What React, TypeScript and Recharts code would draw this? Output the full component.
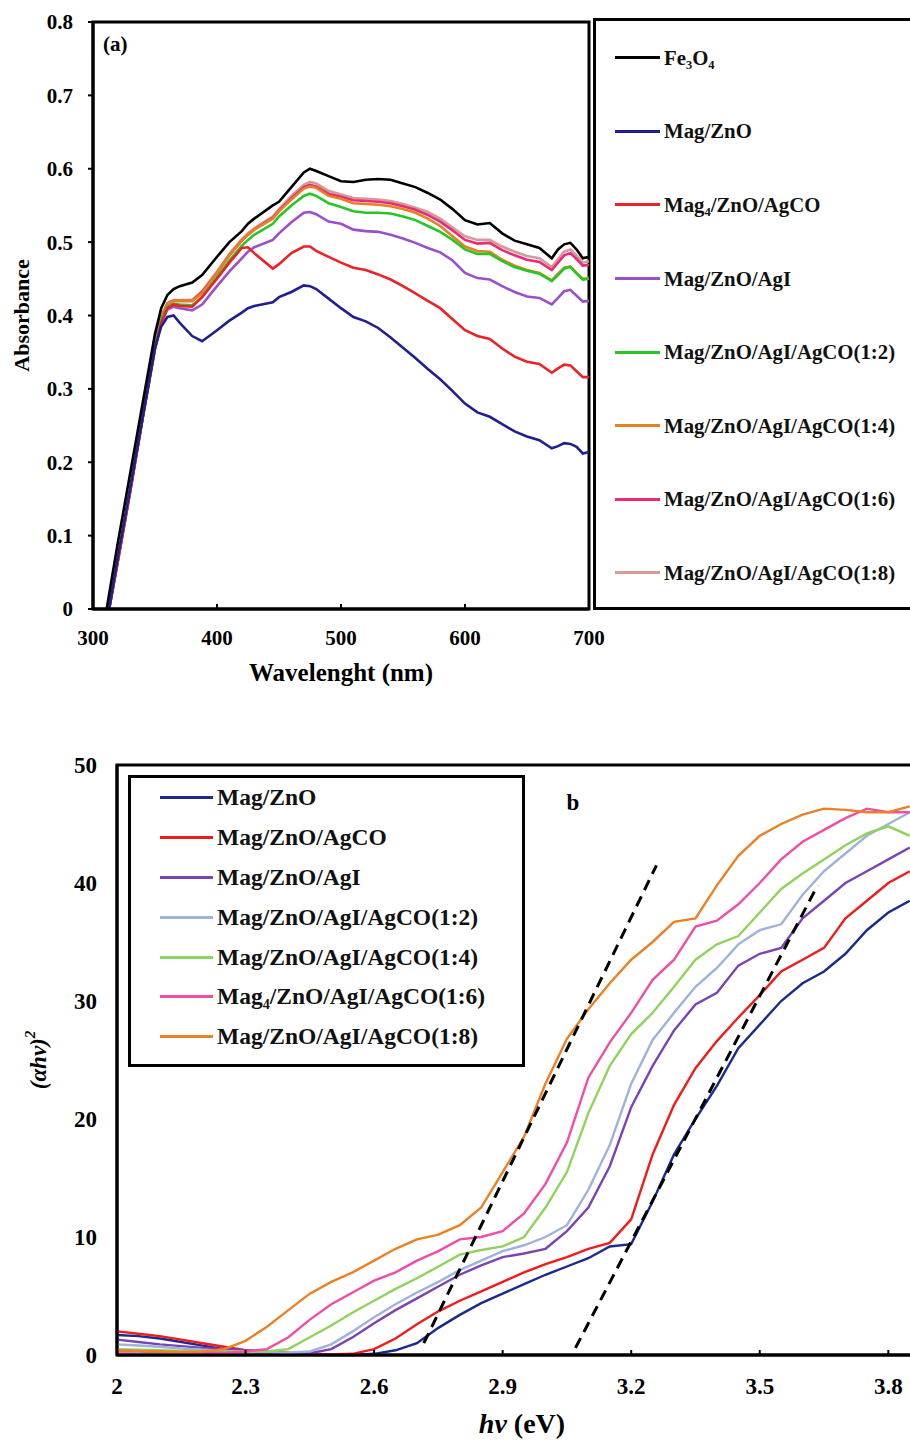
import React from 'react';
import {
  LineChart,
  Line,
  XAxis,
  YAxis,
  ReferenceArea,
  ReferenceLine,
  Legend,
} from 'recharts';

const FONT = '"Liberation Serif", "Times New Roman", serif';

// ---- (a) absorbance spectra ----
const wavelength = [
  311, 313, 320, 330, 340, 350, 355, 360, 365, 370, 380, 388, 400, 410, 420, 425,
  430, 445, 450, 460, 470, 475, 480, 490, 500, 510, 520, 530, 540, 550, 560, 570,
  580, 590, 600, 610, 620, 630, 640, 650, 660, 670, 675, 680, 685, 690, 695, 700,
];
const absFe3O4 = [
  0, 0.02, 0.09, 0.185, 0.28, 0.375, 0.41, 0.428, 0.436, 0.44, 0.445, 0.455, 0.48, 0.5, 0.515, 0.525,
  0.532, 0.55, 0.555, 0.575, 0.595, 0.6, 0.597, 0.59, 0.583, 0.582, 0.585, 0.586, 0.585, 0.58, 0.575, 0.567,
  0.558, 0.545, 0.53, 0.524, 0.526, 0.512, 0.502, 0.497, 0.492, 0.478, 0.49, 0.497, 0.499, 0.49, 0.478, 0.48,
];
const absZnO = [
  null, 0, 0.07, 0.165, 0.26, 0.355, 0.385, 0.398, 0.4, 0.39, 0.372, 0.365, 0.38, 0.393, 0.404, 0.41,
  0.413, 0.418, 0.425, 0.432, 0.441, 0.44, 0.436, 0.423, 0.41, 0.398, 0.392, 0.383, 0.37, 0.356, 0.342, 0.327,
  0.313, 0.297, 0.28, 0.268, 0.262, 0.252, 0.242, 0.235, 0.23, 0.219, 0.222, 0.226, 0.225, 0.221, 0.212, 0.214,
];
const absAgCO = [
  null, 0, 0.065, 0.16, 0.26, 0.355, 0.39, 0.41, 0.415, 0.413, 0.412, 0.425, 0.45, 0.472, 0.492, 0.493,
  0.485, 0.464, 0.47, 0.485, 0.494, 0.494, 0.488, 0.48, 0.472, 0.465, 0.462, 0.456, 0.449, 0.44, 0.43, 0.42,
  0.41, 0.395, 0.38, 0.372, 0.368, 0.355, 0.344, 0.337, 0.334, 0.322, 0.328, 0.333, 0.332, 0.324, 0.316, 0.316,
];
const absAgI = [
  null, 0, 0.065, 0.16, 0.26, 0.355, 0.39, 0.408, 0.412, 0.41, 0.407, 0.415, 0.44, 0.46, 0.478, 0.487,
  0.493, 0.503, 0.512, 0.527, 0.54, 0.541, 0.538, 0.528, 0.525, 0.517, 0.515, 0.514, 0.51, 0.505, 0.499, 0.492,
  0.486, 0.475, 0.458, 0.451, 0.449, 0.44, 0.432, 0.426, 0.424, 0.415, 0.424, 0.433, 0.435, 0.427, 0.419, 0.42,
];
const abs12 = [
  null, 0, 0.065, 0.16, 0.26, 0.358, 0.395, 0.412, 0.416, 0.415, 0.414, 0.425, 0.452, 0.475, 0.495, 0.503,
  0.51, 0.525, 0.535, 0.55, 0.563, 0.566, 0.563, 0.553, 0.548, 0.542, 0.54, 0.54, 0.539, 0.535, 0.53, 0.522,
  0.514, 0.503, 0.49, 0.484, 0.484, 0.474, 0.466, 0.461, 0.457, 0.447, 0.455, 0.464, 0.466, 0.457, 0.449, 0.45,
];
const abs14 = [
  null, 0, 0.066, 0.162, 0.262, 0.36, 0.398, 0.416, 0.42, 0.42, 0.42, 0.43, 0.458, 0.482, 0.502, 0.51,
  0.517, 0.532, 0.542, 0.558, 0.573, 0.576, 0.574, 0.563, 0.559, 0.553, 0.552, 0.551, 0.549, 0.545, 0.54, 0.532,
  0.522, 0.508, 0.494, 0.488, 0.487, 0.476, 0.468, 0.462, 0.458, 0.448, 0.457, 0.465, 0.467, 0.458, 0.45, 0.451,
];
const abs16 = [
  null, 0, 0.066, 0.162, 0.262, 0.36, 0.398, 0.416, 0.42, 0.42, 0.42, 0.432, 0.458, 0.482, 0.502, 0.51,
  0.517, 0.533, 0.543, 0.56, 0.575, 0.578, 0.576, 0.566, 0.562, 0.557, 0.556, 0.555, 0.553, 0.549, 0.544, 0.537,
  0.528, 0.516, 0.503, 0.498, 0.499, 0.489, 0.482, 0.476, 0.473, 0.462, 0.472, 0.482, 0.485, 0.477, 0.468, 0.469,
];
const abs18 = [
  null, 0, 0.066, 0.162, 0.262, 0.36, 0.398, 0.417, 0.421, 0.421, 0.421, 0.433, 0.46, 0.484, 0.504, 0.512,
  0.519, 0.535, 0.545, 0.563, 0.578, 0.582, 0.58, 0.57, 0.565, 0.56, 0.559, 0.558, 0.556, 0.552, 0.547, 0.541,
  0.532, 0.52, 0.508, 0.503, 0.503, 0.494, 0.487, 0.481, 0.478, 0.466, 0.477, 0.487, 0.49, 0.482, 0.472, 0.474,
];
const absNames = [
  'Fe₃O₄',
  'Mag/ZnO',
  'Mag₄/ZnO/AgCO',
  'Mag/ZnO/AgI',
  'Mag/ZnO/AgI/AgCO(1:2)',
  'Mag/ZnO/AgI/AgCO(1:4)',
  'Mag/ZnO/AgI/AgCO(1:6)',
  'Mag/ZnO/AgI/AgCO(1:8)',
];
const absColors = ['#000000', '#1f1f8f', '#ec2227', '#9a4fcc', '#26c626', '#e7801f', '#ec2a78', '#d69a9a'];
const wavelengthTicks = [300, 400, 500, 600, 700];
const absorbanceTicks = [0, 0.1, 0.2, 0.3, 0.4, 0.5, 0.6, 0.7, 0.8];

// ---- (b) Tauc plot ----
const photonEnergy = [
  2, 2.05, 2.1, 2.15, 2.2, 2.25, 2.3, 2.35, 2.4, 2.45, 2.5, 2.55, 2.6, 2.65, 2.7, 2.75, 2.8, 2.85, 2.9,
  2.95, 3, 3.05, 3.1, 3.15, 3.2, 3.25, 3.3, 3.35, 3.4, 3.45, 3.5, 3.55, 3.6, 3.65, 3.7, 3.75, 3.8, 3.85,
];
const taucZnO = [
  1.7, 1.6, 1.4, 1.1, 0.8, 0.5, 0.3, 0.2, 0.1, 0.05, 0, 0, 0.1, 0.4, 1.0, 2.3, 3.4, 4.4, 5.2,
  6.0, 6.8, 7.5, 8.2, 9.2, 9.4, 13.0, 17.0, 20.0, 22.8, 26.0, 28.0, 30.0, 31.5, 32.5, 34.0, 36.0, 37.5, 38.5,
];
const taucAgCO = [
  2.0, 1.8, 1.6, 1.3, 1.0, 0.7, 0.4, 0.3, 0.2, 0.1, 0.05, 0.1, 0.5, 1.4, 2.6, 3.7, 4.6, 5.4, 6.2,
  7.0, 7.7, 8.3, 9.0, 9.5, 11.5, 17.0, 21.2, 24.3, 26.6, 28.6, 30.5, 32.5, 33.5, 34.5, 37.0, 38.5, 40.0, 41.0,
];
const taucAgI = [
  1.3, 1.1, 0.9, 0.75, 0.6, 0.5, 0.4, 0.3, 0.15, 0.15, 0.5, 1.5, 2.7, 3.8, 4.8, 5.8, 6.8, 7.6, 8.3,
  8.6, 9.0, 10.5, 12.5, 16.0, 21.0, 24.5, 27.5, 29.7, 30.7, 33.0, 34.0, 34.5, 37.0, 38.5, 40.0, 41.0, 42.0, 43.0,
];
const tauc12 = [
  0.9, 0.8, 0.7, 0.55, 0.45, 0.35, 0.3, 0.25, 0.2, 0.3, 0.9, 2.0, 3.2, 4.3, 5.3, 6.2, 7.2, 8.0, 8.8,
  9.3, 10.0, 11.0, 14.0, 17.8, 23.0, 26.7, 29.0, 31.2, 32.8, 34.8, 36.0, 36.5, 39.0, 41.0, 42.5, 44.0, 45.0, 46.0,
];
const tauc14 = [
  0.5, 0.45, 0.4, 0.35, 0.3, 0.3, 0.3, 0.3, 0.5, 1.5, 2.5, 3.6, 4.6, 5.6, 6.5, 7.5, 8.5, 8.9, 9.2,
  10.0, 12.5, 15.5, 20.5, 24.5, 27.2, 29.0, 31.2, 33.5, 34.8, 35.5, 37.5, 39.5, 40.8, 42.0, 43.2, 44.2, 44.8, 44.0,
];
const tauc16 = [
  0.3, 0.3, 0.25, 0.2, 0.2, 0.2, 0.3, 0.5, 1.5, 3.0, 4.3, 5.3, 6.3, 7.0, 8.0, 8.8, 9.8, 10.0, 10.5,
  12.0, 14.5, 18.0, 23.5, 26.5, 29.0, 31.8, 33.5, 36.3, 36.8, 38.2, 40.0, 42.0, 43.5, 44.5, 45.5, 46.3, 46.0, 46.0,
];
const tauc18 = [
  0.4, 0.35, 0.3, 0.25, 0.3, 0.5, 1.2, 2.4, 3.8, 5.2, 6.2, 7.0, 8.0, 9.0, 9.8, 10.2, 11.0, 12.5, 15.5,
  18.5, 23.0, 26.8, 29.3, 31.5, 33.5, 35.0, 36.7, 37.0, 39.8, 42.3, 44.0, 45.0, 45.8, 46.3, 46.2, 46.0, 46.0, 46.5,
];
const taucNames = [
  'Mag/ZnO',
  'Mag/ZnO/AgCO',
  'Mag/ZnO/AgI',
  'Mag/ZnO/AgI/AgCO(1:2)',
  'Mag/ZnO/AgI/AgCO(1:4)',
  'Mag₄/ZnO/AgI/AgCO(1:6)',
  'Mag/ZnO/AgI/AgCO(1:8)',
];
const taucColors = ['#1c2a8e', '#f01c1c', '#7a44b4', '#9fb3da', '#8fd35c', '#f04ea6', '#ec8124'];
const energyTicks = [2, 2.3, 2.6, 2.9, 3.2, 3.5, 3.8];
const taucTicks = [0, 10, 20, 30, 40, 50];
// band-gap tangents [eV, value]
const tangentA = [[2.716, 1.0], [3.259, 41.5]];
const tangentB = [[3.07, 0.6], [3.635, 39.8]];

const absSeries = [absFe3O4, absZnO, absAgCO, absAgI, abs12, abs14, abs16, abs18];
const absData = wavelength.map((wl, i) => {
  const row: Record<string, number | null> = { wl };
  absSeries.forEach((s, k) => {
    row[`s${k}`] = s[i];
  });
  return row;
});

const taucSeries = [taucZnO, taucAgCO, taucAgI, tauc12, tauc14, tauc16, tauc18];
const taucData = photonEnergy.map((ev, i) => {
  const row: Record<string, number> = { ev };
  taucSeries.forEach((s, k) => {
    row[`s${k}`] = s[i];
  });
  return row;
});

const textStyle = { fontFamily: FONT, fontWeight: 'bold' as const, fill: '#000' };

const LegendBox = ({ names, colors, width, height, rowHeight, padLeft, lineWidth, fontSize }: any) => (
  <div
    style={{
      width,
      height,
      border: '3px solid #000',
      boxSizing: 'border-box',
      background: '#fff',
      fontFamily: FONT,
      fontWeight: 'bold',
      fontSize,
      color: '#111',
    }}
  >
    {names.map((n: string, i: number) => (
      <div key={n + i} style={{ height: rowHeight, display: 'flex', alignItems: 'center', paddingLeft: padLeft }}>
        <div style={{ width: lineWidth, height: 3, background: colors[i] }} />
        <span style={{ marginLeft: 4, whiteSpace: 'nowrap' }}>{n}</span>
      </div>
    ))}
  </div>
);

const App = () => {
  return (
    <div
      style={{ position: 'absolute', left: 0, top: 0, width: 910, height: 1440, overflow: 'hidden', background: '#fff' }}
    >
      <div style={{ position: 'absolute', left: 0, top: 0 }}>
        <LineChart width={1000} height={700} data={absData} margin={{ top: 22, right: 411, bottom: 19, left: 0 }}>
          <XAxis
            dataKey="wl"
            type="number"
            domain={[300, 700]}
            ticks={wavelengthTicks}
            allowDataOverflow
            height={72}
            axisLine={{ stroke: '#000', strokeWidth: 3 }}
            tickLine={{ stroke: '#000', strokeWidth: 2 }}
            tickSize={-5}
            tickMargin={26}
            tick={{ ...textStyle, fontSize: 21 }}
            label={({ viewBox }: any) => (
              <text x={viewBox.x + viewBox.width / 2} y={viewBox.y + 72} textAnchor="middle" {...textStyle} fontSize={25}>
                Wavelenght (nm)
              </text>
            )}
          />
          <YAxis
            type="number"
            domain={[0, 0.8]}
            ticks={absorbanceTicks}
            width={93}
            axisLine={{ stroke: '#000', strokeWidth: 3 }}
            tickLine={{ stroke: '#000', strokeWidth: 2 }}
            tickSize={5}
            tickMargin={15}
            tick={{ ...textStyle, fontSize: 21 }}
            label={({ viewBox }: any) => {
              const cx = viewBox.x + 21;
              const cy = viewBox.y + viewBox.height / 2;
              return (
                <text
                  x={cx}
                  y={cy}
                  transform={`rotate(-90, ${cx}, ${cy})`}
                  textAnchor="middle"
                  dominantBaseline="central"
                  {...textStyle}
                  fontSize={22}
                >
                  Absorbance
                </text>
              );
            }}
          />
          <ReferenceArea
            x1={300}
            x2={700}
            y1={0}
            y2={0.8}
            fill="none"
            stroke="#000"
            strokeWidth={3}
            label={({ viewBox }: any) => (
              <text x={viewBox.x + 10} y={viewBox.y + 29} {...textStyle} fontSize={21}>
                (a)
              </text>
            )}
          />
          {[7, 6, 5, 4, 3, 2, 1, 0].map((k) => (
            <Line
              key={k}
              type="linear"
              dataKey={`s${k}`}
              name={absNames[k]}
              stroke={absColors[k]}
              strokeWidth={2.6}
              dot={false}
              activeDot={false}
              isAnimationActive={false}
            />
          ))}
          <Legend
            layout="vertical"
            align="center"
            verticalAlign="middle"
            wrapperStyle={{ left: 593, top: 18, width: 400, height: 592 }}
            content={() => (
              <LegendBox
                names={absNames}
                colors={absColors}
                width={400}
                height={592}
                rowHeight={73.6}
                padLeft={19}
                lineWidth={45}
                fontSize={20.8}
              />
            )}
          />
        </LineChart>
      </div>

      <div style={{ position: 'absolute', left: 0, top: 700 }}>
        <LineChart width={1000} height={740} data={taucData} margin={{ top: 65, right: 26, bottom: 5, left: 0 }}>
          <XAxis
            dataKey="ev"
            type="number"
            domain={[2, 4]}
            ticks={energyTicks}
            allowDataOverflow
            height={80}
            axisLine={{ stroke: '#000', strokeWidth: 3 }}
            tickLine={{ stroke: '#000', strokeWidth: 2 }}
            tickSize={-5}
            tickMargin={28}
            tick={{ ...textStyle, fontSize: 23 }}
            label={({ viewBox }: any) => (
              <text x={viewBox.x + 405} y={viewBox.y + 78} textAnchor="middle" {...textStyle} fontSize={28}>
                <tspan fontStyle="italic">hν</tspan> (eV)
              </text>
            )}
          />
          <YAxis
            type="number"
            domain={[0, 50]}
            ticks={taucTicks}
            width={117}
            axisLine={{ stroke: '#000', strokeWidth: 3 }}
            tickLine={false}
            tickMargin={14}
            tick={{ ...textStyle, fontSize: 23 }}
            label={({ viewBox }: any) => {
              const cx = viewBox.x + 38;
              const cy = viewBox.y + viewBox.height / 2;
              return (
                <text
                  x={cx}
                  y={cy}
                  transform={`rotate(-90, ${cx}, ${cy})`}
                  textAnchor="middle"
                  dominantBaseline="central"
                  {...textStyle}
                  fontStyle="italic"
                  fontSize={23}
                >
                  (αhν)
                  <tspan dy={-8} fontSize={15}>
                    2
                  </tspan>
                </text>
              );
            }}
          />
          <ReferenceArea
            x1={2}
            x2={4}
            y1={0}
            y2={50}
            fill="none"
            stroke="#000"
            strokeWidth={3}
            label={({ viewBox }: any) => (
              <text x={viewBox.x + 456} y={viewBox.y + 45} textAnchor="middle" {...textStyle} fontSize={23}>
                b
              </text>
            )}
          />
          {taucSeries.map((_, k) => (
            <Line
              key={k}
              type="linear"
              dataKey={`s${k}`}
              name={taucNames[k]}
              stroke={taucColors[k]}
              strokeWidth={2.4}
              dot={false}
              activeDot={false}
              isAnimationActive={false}
            />
          ))}
          {[tangentA, tangentB].map((t, i) => (
            <ReferenceLine
              key={i}
              segment={[
                { x: t[0][0], y: t[0][1] },
                { x: t[1][0], y: t[1][1] },
              ]}
              stroke="#000"
              strokeWidth={3}
              strokeDasharray="11 7"
            />
          ))}
          <Legend
            layout="vertical"
            align="center"
            verticalAlign="middle"
            wrapperStyle={{ left: 128, top: 75, width: 397, height: 292 }}
            content={() => (
              <LegendBox
                names={taucNames}
                colors={taucColors}
                width={397}
                height={292}
                rowHeight={39.8}
                padLeft={29}
                lineWidth={53}
                fontSize={23.5}
              />
            )}
          />
        </LineChart>
      </div>
    </div>
  );
};

export default App;
